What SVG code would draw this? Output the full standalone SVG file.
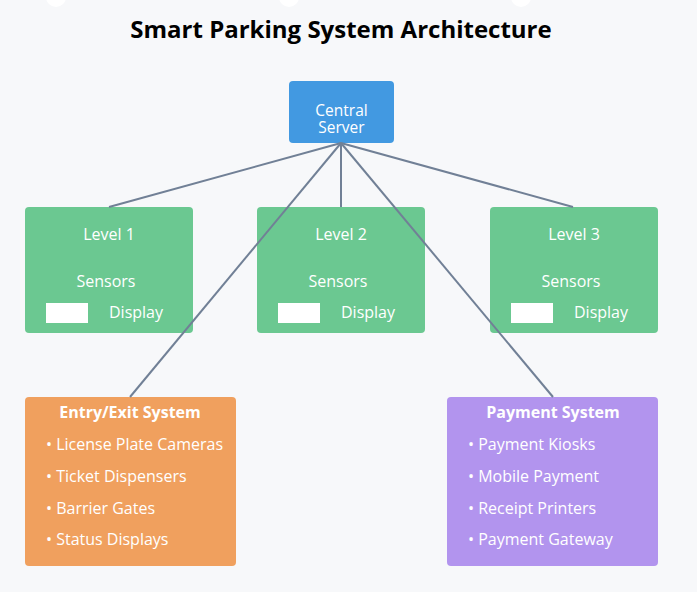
<svg xmlns="http://www.w3.org/2000/svg" width="697" height="592" viewBox="0 0 697 592">
<style>
text{font-family:"Open Sans","Noto Sans","Liberation Sans",sans-serif;fill:#fff}
.title{font-size:24px;font-weight:bold;fill:#000}
.c{text-anchor:middle}
.t14{font-size:16px}
.cs{font-size:15.5px}
.b{font-weight:bold;font-size:16px}
.conn line{stroke:#718096;stroke-width:2}
</style>
<rect width="697" height="592" fill="#f7f8fa"/>
<circle cx="56" cy="-3" r="10" fill="#fff"/>
<circle cx="289" cy="-3" r="10" fill="#fff"/>
<circle cx="521" cy="-3" r="10" fill="#fff"/>
<text class="title c" x="341" y="38">Smart Parking System Architecture</text>
<g id="central">
<rect x="289" y="81" width="105" height="62" rx="4" fill="#4299e1"/>
<text class="c cs" x="341.5" y="116">Central</text>
<text class="c cs" x="341.5" y="133">Server</text>
</g>
<g id="level1">
<rect x="25" y="207" width="168" height="126" rx="4" fill="#6bc891"/>
<text class="c t14" x="109" y="240">Level 1</text>
<text class="c t14" x="106" y="287">Sensors</text>
<rect x="46" y="303" width="42" height="20" fill="#fff"/>
<text class="t14" x="109" y="318">Display</text>
</g>
<g id="level2">
<rect x="257" y="207" width="168" height="126" rx="4" fill="#6bc891"/>
<text class="c t14" x="341" y="240">Level 2</text>
<text class="c t14" x="338" y="287">Sensors</text>
<rect x="278" y="303" width="42" height="20" fill="#fff"/>
<text class="t14" x="341" y="318">Display</text>
</g>
<g id="level3">
<rect x="490" y="207" width="168" height="126" rx="4" fill="#6bc891"/>
<text class="c t14" x="574" y="240">Level 3</text>
<text class="c t14" x="571" y="287">Sensors</text>
<rect x="511" y="303" width="42" height="20" fill="#fff"/>
<text class="t14" x="574" y="318">Display</text>
</g>
<g id="entry">
<rect x="25" y="397" width="211" height="169" rx="4" fill="#f0a05e"/>
<text class="c b" x="130" y="418">Entry/Exit System</text>
<text class="t14" x="46" y="450">• License Plate Cameras</text>
<text class="t14" x="46" y="482">• Ticket Dispensers</text>
<text class="t14" x="46" y="514">• Barrier Gates</text>
<text class="t14" x="46" y="545">• Status Displays</text>
</g>
<g id="payment">
<rect x="447" y="397" width="211" height="169" rx="4" fill="#b294ee"/>
<text class="c b" x="553" y="418">Payment System</text>
<text class="t14" x="468" y="450">• Payment Kiosks</text>
<text class="t14" x="468" y="482">• Mobile Payment</text>
<text class="t14" x="468" y="514">• Receipt Printers</text>
<text class="t14" x="468" y="545">• Payment Gateway</text>
</g>
<g class="conn" id="connectors">
<line x1="341" y1="143" x2="109" y2="207"/>
<line x1="341" y1="143" x2="341" y2="207"/>
<line x1="341" y1="143" x2="573" y2="207"/>
<line x1="341" y1="143" x2="130" y2="397"/>
<line x1="341" y1="143" x2="553" y2="397"/>
</g>
</svg>
